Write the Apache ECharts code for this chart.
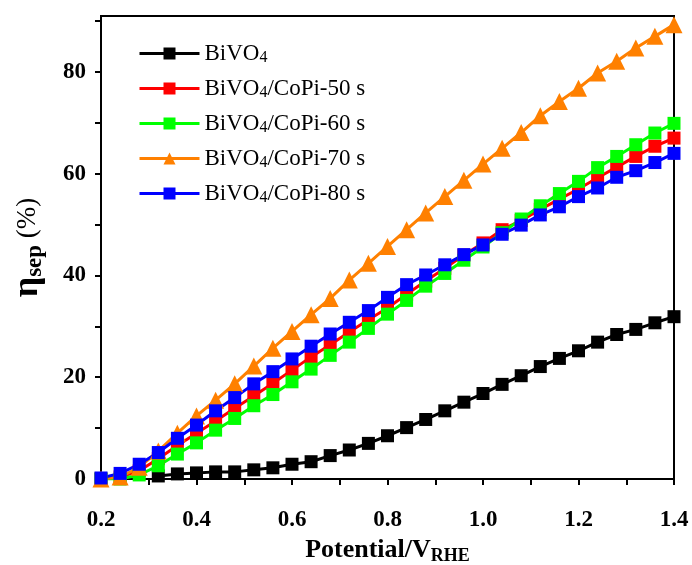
<!DOCTYPE html>
<html>
<head>
<meta charset="utf-8">
<script src="https://cdn.jsdelivr.net/npm/echarts@6/dist/echarts.min.js"></script>
<style>
html, body { margin: 0; padding: 0; background: #fff; }
#chart { width: 692px; height: 565px; }
</style>
</head>
<body>
<div id="chart"></div>
<script>
// potential (V vs RHE)
var potential = [0.20,0.24,0.28,0.32,0.36,0.40,0.44,0.48,0.52,0.56,0.60,0.64,0.68,0.72,0.76,0.80,
                 0.84,0.88,0.92,0.96,1.00,1.04,1.08,1.12,1.16,1.20,1.24,1.28,1.32,1.36,1.40];

// eta_sep (%) per sample
var bivo4 = [null,null,null,0.6,1.0,1.2,1.4,1.4,1.8,2.2,2.9,3.4,4.6,5.7,7.0,8.5,
             10.1,11.7,13.4,15.1,16.8,18.6,20.3,22.1,23.7,25.2,26.9,28.4,29.4,30.7,31.9];
var copi50 = [0,0.4,1.6,4.0,6.6,9.0,11.4,13.9,16.3,18.8,21.4,24.0,26.4,28.9,31.3,33.6,
              36.3,38.9,41.4,44.0,46.4,49.0,50.8,53.0,55.0,57.0,59.2,61.3,63.4,65.4,67.0];
var copi60 = [0,0,0.8,2.6,4.9,7.1,9.6,11.9,14.4,16.6,19.1,21.6,24.3,26.9,29.6,32.4,
              35.1,37.9,40.4,43.0,45.6,48.4,51.1,53.7,56.1,58.5,61.2,63.4,65.7,68.0,69.9];
var copi70 = [0,0.4,2.3,5.5,9.0,12.4,15.5,18.7,22.2,25.7,29.0,32.3,35.5,39.1,42.4,45.7,
              49.0,52.3,55.5,58.7,61.9,65.0,68.1,71.4,74.2,76.8,79.8,82.1,84.7,87.0,89.3];
var copi80 = [0.2,1.1,2.9,5.2,8.0,10.6,13.4,16.0,18.7,21.1,23.6,26.1,28.5,30.8,33.1,35.7,
              38.2,40.1,42.1,44.1,46.0,48.1,49.9,51.9,53.5,55.5,57.2,59.3,60.6,62.2,64.0];

// ticks
var xTicks = [0.2,0.3,0.4,0.5,0.6,0.7,0.8,0.9,1.0,1.1,1.2,1.3,1.4];
var xLabels = [0.2,0.4,0.6,0.8,1.0,1.2,1.4];
var yTicks = [0,10,20,30,40,50,60,70,80,90];
var yLabels = [0,20,40,60,80];

var names = ['BiVO4','BiVO4/CoPi-50 s','BiVO4/CoPi-60 s','BiVO4/CoPi-70 s','BiVO4/CoPi-80 s'];
var colors = ['#000000','#ff0000','#00ff00','#ff8000','#0000ff'];

function pairs(arr) {
    return potential.map(function (p, i) { return [p, arr[i]]; });
}

var font = '"Liberation Serif", "Times New Roman", serif';

function mkSeries(name, arr, color, symbol, size) {
    return {
        name: name,
        type: 'line',
        data: pairs(arr),
        symbol: symbol,
        symbolSize: size,
        connectNulls: false,
        lineStyle: { color: color, width: 3 },
        itemStyle: { color: color },
        emphasis: { disabled: true },
        z: 2
    };
}

var myChart = echarts.init(document.getElementById('chart'));
var option = {
    animation: false,
    backgroundColor: '#fff',
    color: colors,
    grid: {
        left: 101, right: 18, top: 16, bottom: 86,
        outerBoundsMode: 'none',
        show: true, borderColor: '#000', borderWidth: 2, backgroundColor: 'transparent'
    },
    legend: {
        left: 133, top: 37, orient: 'vertical',
        itemWidth: 60, itemHeight: 15, itemGap: 11,
        lineStyle: { width: 3 },
        data: names,
        formatter: function (n) {
            return '{n|BiVO}{s|4}{n|' + n.slice(5) + '}';
        },
        textStyle: {
            fontFamily: font, color: '#000',
            rich: {
                n: { fontFamily: font, fontSize: 23, lineHeight: 25, color: '#000' },
                s: { fontFamily: font, fontSize: 16, lineHeight: 8, verticalAlign: 'bottom', color: '#000' }
            }
        }
    },
    xAxis: {
        type: 'value', min: 0.2, max: 1.4, interval: 0.2,
        name: '{a|Potential/V}{b|RHE}',
        nameLocation: 'middle', nameGap: 56,
        nameTextStyle: {
            rich: {
                a: { fontFamily: font, fontSize: 26, fontWeight: 'bold', color: '#000', lineHeight: 30 },
                b: { fontFamily: font, fontSize: 18, fontWeight: 'bold', color: '#000', lineHeight: 10, verticalAlign: 'bottom' }
            }
        },
        axisLine: { onZero: false, lineStyle: { color: '#000', width: 2 } },
        axisTick: { show: true, inside: false, length: 6, lineStyle: { width: 2, color: '#000' }, customValues: xTicks },
        axisLabel: {
            fontFamily: font, fontSize: 23, fontWeight: 'bold', color: '#000', margin: 30,
            customValues: xLabels,
            formatter: function (v) { return v.toFixed(1); }
        },
        splitLine: { show: false }
    },
    yAxis: {
        type: 'value', min: 0, max: 91, interval: 10,
        name: '{e|η}{s|sep}{p| (%)}',
        nameLocation: 'middle', nameGap: 54, nameRotate: 90,
        nameTextStyle: {
            rich: {
                e: { fontFamily: font, fontSize: 36, fontWeight: 'bold', color: '#000', lineHeight: 38 },
                s: { fontFamily: font, fontSize: 23, fontWeight: 'bold', color: '#000', lineHeight: 12, verticalAlign: 'bottom' },
                p: { fontFamily: font, fontSize: 27, color: '#000', lineHeight: 38 }
            }
        },
        axisLine: { onZero: false, lineStyle: { color: '#000', width: 2 } },
        axisTick: { show: true, inside: false, length: 6, lineStyle: { width: 2, color: '#000' }, customValues: yTicks },
        axisLabel: {
            fontFamily: font, fontSize: 23, fontWeight: 'bold', color: '#000', margin: 15,
            customValues: yLabels
        },
        splitLine: { show: false }
    },
    series: [
        mkSeries(names[0], bivo4, colors[0], 'rect', 13),
        mkSeries(names[1], copi50, colors[1], 'rect', 13),
        mkSeries(names[2], copi60, colors[2], 'rect', 13),
        mkSeries(names[3], copi70, colors[3], 'triangle', 17),
        mkSeries(names[4], copi80, colors[4], 'rect', 13)
    ]
};
myChart.setOption(option);
</script>
</body>
</html>
